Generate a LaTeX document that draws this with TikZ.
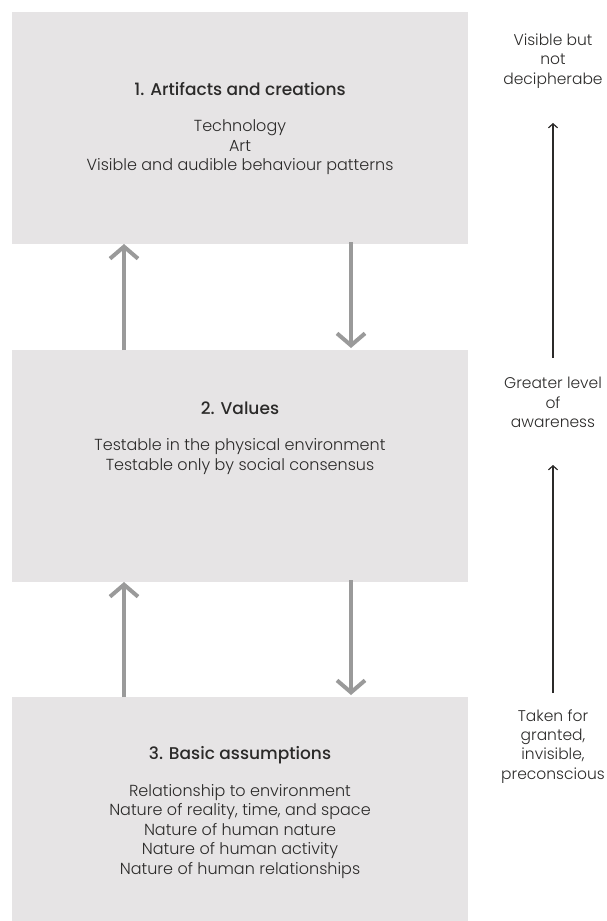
\documentclass[tikz,border=0pt]{standalone}
\usepackage{fontspec}
\setmainfont{Poppins}[UprightFont=* Light, BoldFont=* Medium]
\usetikzlibrary{arrows.meta}
\definecolor{boxgray}{HTML}{E6E4E5}
\definecolor{arrowgray}{HTML}{9A9A9A}
\definecolor{ink}{HTML}{2B2A29}
\begin{document}
\begin{tikzpicture}[x=1pt,y=-1pt,
  layer/.style={fill=boxgray, draw=none, minimum width=456pt,
    inner sep=0pt, outer sep=0pt},
  heading/.style={text=ink, font=\fontsize{17}{19.5}\selectfont\bfseries},
  body/.style={text=ink, align=center, font=\fontsize{16}{19.5}\selectfont},
  side/.style={text=ink, align=center, font=\fontsize{15.5}{19.2}\selectfont},
  flow/.style={draw=arrowgray, line width=4pt,
    -{Straight Barb[length=12pt,width=28pt]}},
  awareness/.style={draw=ink, line width=1.2pt,
    -{Straight Barb[length=4pt,width=9pt]}}]
\useasboundingbox (0,0) rectangle (607,921);

% the three layers
\node[layer, minimum height=232pt] (b1) at (240,128) {};
\node[layer, minimum height=232pt] (b2) at (240,466) {};
\node[layer, minimum height=224pt] (b3) at (240,809) {};

% layer texts
\node[heading] (t1) at (240,89) {1. Artifacts and creations};
\node[body] (d1) at (240,147.5) {Technology\\Art\\Visible and audible behaviour patterns};
\node[heading] (t2) at (240,408) {2. Values};
\node[body] (d2) at (240,456.5) {Testable in the physical environment\\Testable only by social consensus};
\node[heading] (t3) at (240,755) {3. Basic assumptions};
\node[body] (d3) at (240,831.5) {Relationship to environment\\Nature of reality, time, and space\\Nature of human nature\\Nature of human activity\\Nature of human relationships};

% arrows between layers
\coordinate (ux) at (124,0);
\coordinate (dx) at (351,0);
\draw[flow] (b2.north -| ux) -- (b1.south -| ux);
\draw[flow] ([yshift=2pt]b1.south -| dx) -- ([yshift=2pt]b2.north -| dx);
\draw[flow] (b3.north -| ux) -- (b2.south -| ux);
\draw[flow] ([yshift=2pt]b2.south -| dx) -- ([yshift=2pt]b3.north -| dx);

% awareness scale on the right
\node[side] (s1) at (553,61) {Visible but\\not\\decipherabe};
\node[side] (s2) at (553,402.5) {Greater level\\of\\awareness};
\node[side] (s3) at (553,746.5) {Taken for\\granted,\\invisible,\\preconscious};
\coordinate (a1lo) at (553,358);
\coordinate (a1hi) at (553,123);
\coordinate (a2lo) at (553,693);
\coordinate (a2hi) at (553,465);
\draw[awareness] (a1lo) -- (a1hi);
\draw[awareness] (a2lo) -- (a2hi);
\end{tikzpicture}
\end{document}
